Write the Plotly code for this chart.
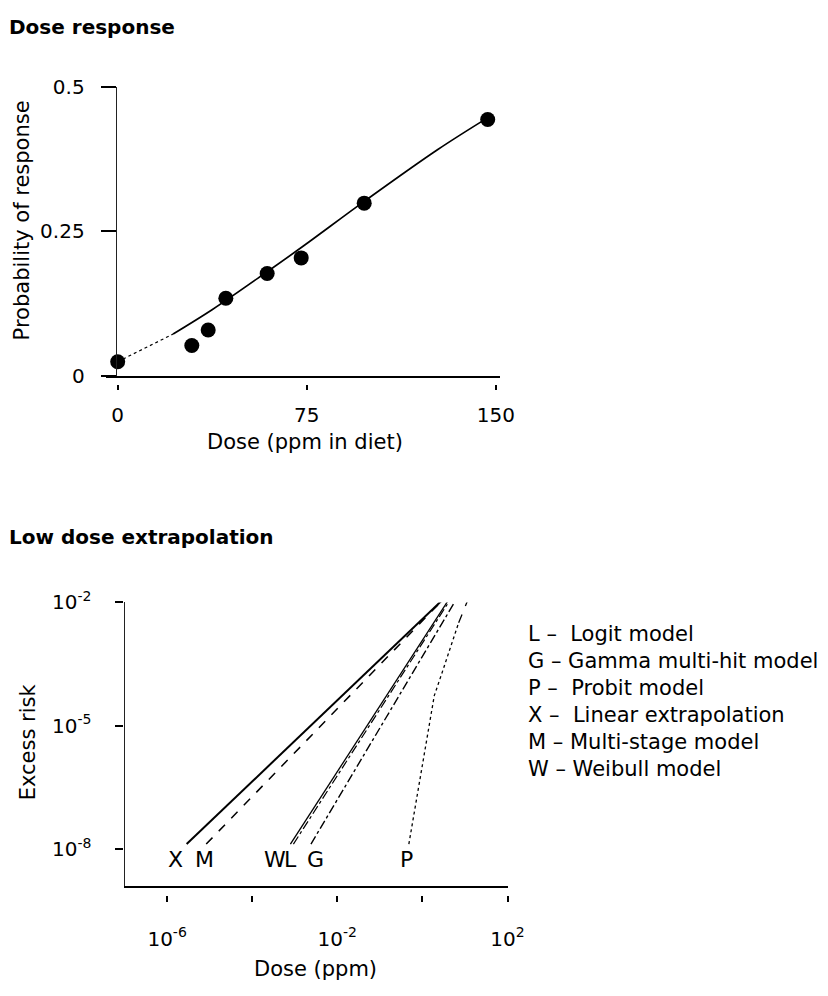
import math
import plotly.graph_objects as go

W, H = 828, 996
OFF = 8  # the page places the plot 8 px in from the top-left corner


def fx(px):
    return (px - OFF) / W


def fy(py):
    return 1 - (py - OFF) / H


# ---------------- Top panel: dose response ----------------
dose_obs = [0, 29.4, 35.9, 42.9, 59.3, 72.8, 97.8, 146.8]
resp_obs = [0.024, 0.052, 0.079, 0.134, 0.177, 0.204, 0.299, 0.444]
fit_dose = [0, 22, 37.6, 59.3, 73.8, 97.8, 127, 146.4]
fit_resp = [0.024, 0.072, 0.1145, 0.18, 0.225, 0.302, 0.392, 0.446]
top_xticks = [0, 75, 150]
top_yticks = [0, 0.25, 0.5]
top_yticktext = ["0", "0.25", "0.5"]

# ---------------- Bottom panel: low dose extrapolation ----------------
x_dose = [2.88e-6, 3.55]
x_risk = [1.32e-8, 1.38e-2]
m_dose = [8.3e-6, 3.55]
m_risk = [1.32e-8, 1.38e-2]
w_dose = [7.9e-4, 4.6]
w_risk = [1.32e-8, 1.38e-2]
l_dose = [9.3e-4, 5.0]
l_risk = [1.32e-8, 1.38e-2]
g_dose = [2.4e-3, 6.8]
g_risk = [1.32e-8, 1.38e-2]
p_dose = [0.48, 1.9, 2.75, 7.1, 12.0]
p_risk = [1.32e-8, 5.4e-5, 1.66e-4, 3.2e-3, 1.23e-2]

label_codes = ["X", "M", "W", "L", "G", "P"]
label_dose = [1.6e-6, 7.4e-6, 3.4e-4, 7.9e-4, 3.1e-3, 0.43]
label_risk = 5.5e-9

bot_xticks = [1e-6, 1e-2, 1e2]
bot_xticktext = ["10<sup>-6</sup>", "10<sup>-2</sup>", "10<sup>2</sup>"]
bot_xminor = [1e-4, 1]
bot_yticks = [1e-8, 1e-5, 1e-2]
bot_yticktext = ["10<sup>-8</sup>", "10<sup>-5</sup>", "10<sup>-2</sup>"]

legend_lines = [
    "L \u2013\u00a0 Logit model",
    "G \u2013 Gamma multi-hit model",
    "P \u2013\u00a0 Probit model",
    "X \u2013\u00a0 Linear extrapolation",
    "M \u2013 Multi-stage model",
    "W \u2013 Weibull model",
]

FONT = "DejaVu Sans, Liberation Sans, Arial, sans-serif"

fig = go.Figure()

fig.add_trace(go.Scatter(x=fit_dose[:2], y=fit_resp[:2], mode="lines",
                         line=dict(color="black", width=1.2, dash="dot"),
                         xaxis="x", yaxis="y"))
fig.add_trace(go.Scatter(x=fit_dose[1:], y=fit_resp[1:], mode="lines",
                         line=dict(color="black", width=1.7, shape="spline"),
                         xaxis="x", yaxis="y"))
fig.add_trace(go.Scatter(x=dose_obs, y=resp_obs, mode="markers",
                         marker=dict(size=15, color="black"),
                         xaxis="x", yaxis="y", cliponaxis=False))
fig.add_trace(go.Scatter(x=[], y=[], xaxis="x2", yaxis="y"))


def add_line(xs, ys, width, dash):
    fig.add_trace(go.Scatter(x=xs, y=ys, mode="lines",
                             line=dict(color="black", width=width, dash=dash),
                             xaxis="x3", yaxis="y3"))


add_line(x_dose, x_risk, 2.0, "solid")
add_line(m_dose, m_risk, 1.5, "dash")
add_line(w_dose, w_risk, 1.3, "solid")
add_line(l_dose, l_risk, 1.2, "dashdot")
add_line(g_dose, g_risk, 1.4, "dashdot")
add_line(p_dose[:4], p_risk[:4], 1.3, "dot")
add_line(p_dose[3:], p_risk[3:], 1.3, "dash")
fig.add_trace(go.Scatter(x=[], y=[], xaxis="x4", yaxis="y3"))

ann = []


def txt(text, x, y, size=21, xanchor="left", angle=0):
    ann.append(dict(text=text, x=fx(x), y=fy(y), xref="paper", yref="paper",
                    xanchor=xanchor, yanchor="middle", showarrow=False,
                    textangle=angle, font=dict(size=size, family=FONT, color="black")))


txt("<b>Dose response</b>", 7, 13, size=20)
txt("<b>Low dose extrapolation</b>", 7, 537, size=20)
txt("Probability of response", 22, 212, xanchor="center", angle=-90)
txt("Dose (ppm in diet)", 311, 439, xanchor="center")
txt("Excess risk", 28, 747, xanchor="center", angle=-90)
txt("Dose (ppm)", 322, 980, xanchor="center")
for i, line in enumerate(legend_lines):
    txt(line, 537, 636 + i * 27.8, size=21)

for code, d in zip(label_codes, label_dose):
    ann.append(dict(text=code, x=math.log10(d), y=math.log10(label_risk),
                    xref="x3", yref="y3", showarrow=False, xanchor="center",
                    yanchor="middle", font=dict(size=22, family=FONT, color="black")))

common = dict(showgrid=False, zeroline=False,
              tickfont=dict(size=20, family=FONT, color="black"))

fig.update_layout(
    width=W, height=H,
    margin=dict(l=0, r=0, t=0, b=0),
    paper_bgcolor="white", plot_bgcolor="white",
    showlegend=False,
    font=dict(family=FONT, size=21, color="black"),
    annotations=ann,
    xaxis=dict(domain=[fx(108), fx(510)], range=[-4.66, 151.55], anchor="y",
               showline=True, linecolor="black", linewidth=2,
               ticks="", tickvals=[], showticklabels=False, **common),
    xaxis2=dict(domain=[fx(108), fx(510)], range=[-4.66, 151.55], overlaying="x",
                anchor="free", position=fy(380), showline=False,
                ticks="outside", ticklen=5, tickwidth=1.5, tickcolor="black",
                tickvals=top_xticks, ticklabelstandoff=8, **common),
    yaxis=dict(domain=[fy(371), fy(75)], range=[0, 0.5],
               anchor="free", position=fx(118),
               showline=True, linecolor="#222", linewidth=1.2,
               ticks="outside", ticklen=15, tickwidth=1.5, tickcolor="black",
               tickvals=top_yticks, ticktext=top_yticktext,
               ticklabelstandoff=12, **common),
    xaxis3=dict(domain=[fx(127), fx(518)], type="log", range=[-7, 2], anchor="y3",
                showline=True, linecolor="black", linewidth=2,
                ticks="", tickvals=[], showticklabels=False, **common),
    xaxis4=dict(domain=[fx(127), fx(518)], type="log", range=[-7, 2], overlaying="x3",
                anchor="free", position=fy(904), showline=False,
                ticks="outside", ticklen=6, tickwidth=1.5, tickcolor="black",
                tickvals=bot_xticks, ticktext=bot_xticktext,
                minor=dict(tickvals=bot_xminor, ticks="outside", ticklen=6,
                           tickwidth=1.5, tickcolor="black", showgrid=False),
                ticklabelstandoff=20, **common),
    yaxis3=dict(domain=[fy(895), fy(604)], type="log", range=[-8.896, -2],
                anchor="x3", showline=True, linecolor="#222", linewidth=1.2,
                ticks="outside", ticklen=8, tickwidth=1.5, tickcolor="black",
                tickvals=bot_yticks, ticktext=bot_yticktext,
                ticklabelstandoff=20, **common),
)

fig.write_html("out.html")
